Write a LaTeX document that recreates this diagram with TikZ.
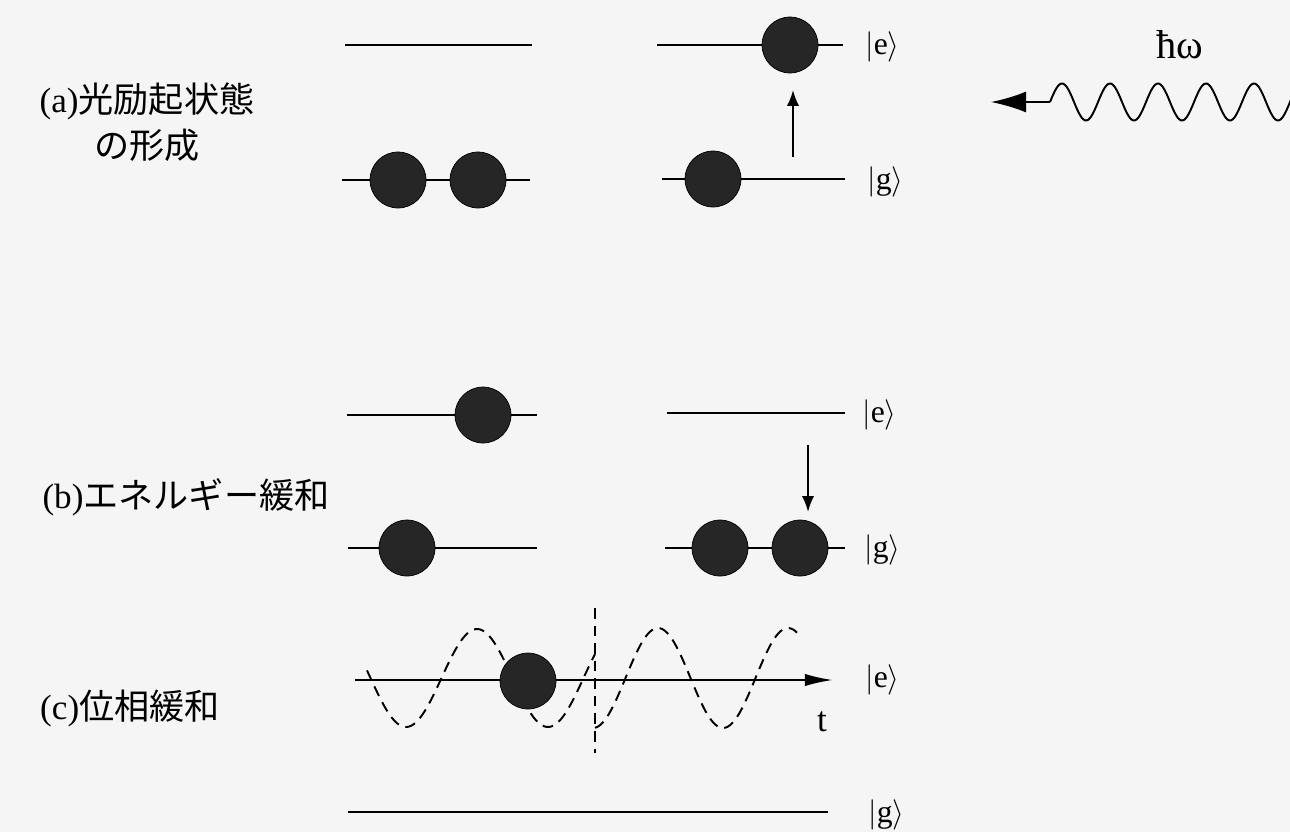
\documentclass[tikz,border=0pt]{standalone}
\usepackage{fontspec}
\setmainfont{Liberation Serif}
\newfontfamily\jpfont{Noto Sans CJK JP}
\usetikzlibrary{arrows.meta}

\tikzset{
  nivel/.style={line width=1.2pt},
  bola/.style={circle, fill=black!85, draw=black, minimum size=1.12cm, inner sep=0pt},
  ket/.style={anchor=west, inner sep=0pt, font=\fontsize{18}{20}\selectfont},
  rotulo/.style={align=center, font=\fontsize{20}{26}\selectfont}
}

\begin{document}
\begin{tikzpicture}[x=0.02cm, y=-0.02cm]
    \fill[black!4] (0,0) rectangle (1290,832);
    \useasboundingbox (0,0) rectangle (1290,832);

    % Niveles de energia |e> y |g>
    \foreach \n/\xa/\xb/\y in {aLe/345/532/45, aLg/342/530/180, aRe/657/843/45, aRg/662/845/179,
                               bLe/347/537/415, bLg/348/537/548, bRe/667/845/413, bRg/665/845/548,
                               cg/348/828/812}
        \draw[nivel] (\xa,\y) coordinate (\n1) -- (\xb,\y) coordinate (\n2);

    % (a) formacion del estado excitado
    \node[rotulo] (la) at (147,122) {(a)\jpfont 光励起状態\\\jpfont の形成};
    \node[bola] (a1) at (398,180) {};
    \node[bola] (a2) at (478,180) {};
    \node[bola] (a3) at (713,179) {};
    \node[bola] (a4) at (790,45) {};
    \coordinate (up0) at (793,157);
    \coordinate (up1) at (793,90);
    \draw[line width=1.2pt, -{Latex[length=9pt,width=7pt]}] (up0) -- (up1);
    \node[ket] (ka1) at (865,47) {$|\mathrm{e}\rangle$};
    \node[ket] (ka2) at (867,182) {$|\mathrm{g}\rangle$};

    % Foton incidente
    \node[font=\fontsize{23}{25}\selectfont] (hw) at (1180,45) {ħω};
    \coordinate (w0) at (1050,102);
    \coordinate (w1) at (991,102);
    \draw[line width=1.1pt, domain=0:242, samples=160]
        plot ({1050+\x}, {102 - 18.5*sin(7.5*\x)});
    \draw[line width=1.1pt, -{Latex[length=20pt,width=12pt]}] (w0) -- (w1);

    % (b) relajacion de energia
    \node[rotulo] (lb) at (186,497) {(b)\jpfont エネルギー緩和};
    \node[bola] (b1) at (483,415) {};
    \node[bola] (b2) at (407,548) {};
    \node[bola] (b3) at (720,548) {};
    \node[bola] (b4) at (800,548) {};
    \coordinate (dn0) at (808,445);
    \coordinate (dn1) at (808,512);
    \draw[line width=1.2pt, -{Latex[length=9pt,width=7pt]}] (dn0) -- (dn1);
    \node[ket] (kb1) at (862,415) {$|\mathrm{e}\rangle$};
    \node[ket] (kb2) at (864,550) {$|\mathrm{g}\rangle$};

    % (c) relajacion de fase
    \node[rotulo] (lc) at (130,708) {(c)\jpfont 位相緩和};
    \coordinate (t0) at (355,680);
    \coordinate (t1) at (833,680);
    \draw[nivel, -{Latex[length=16pt,width=7pt]}] (t0) -- (t1);
    \node[font=\fontsize{20}{22}\selectfont] (t) at (822,722) {t};
    \draw[line width=1.1pt, dash pattern=on 6pt off 4pt, domain=-110:118, samples=100]
        plot ({477+\x}, {678 - 49*cos(2.535*\x)});
    \draw[line width=1.1pt, dash pattern=on 6pt off 4pt, domain=-63:139, samples=100]
        plot ({658+\x}, {678 - 50*cos(2.769*\x)});
    \coordinate (v0) at (595,608);
    \coordinate (v1) at (595,753);
    \draw[line width=1.1pt, dash pattern=on 6pt off 4pt] (v0) -- (v1);
    \node[bola] (c1) at (528,681) {};
    \node[ket] (kc1) at (865,680) {$|\mathrm{e}\rangle$};
    \node[ket] (kc2) at (868,815) {$|\mathrm{g}\rangle$};
\end{tikzpicture}
\end{document}
